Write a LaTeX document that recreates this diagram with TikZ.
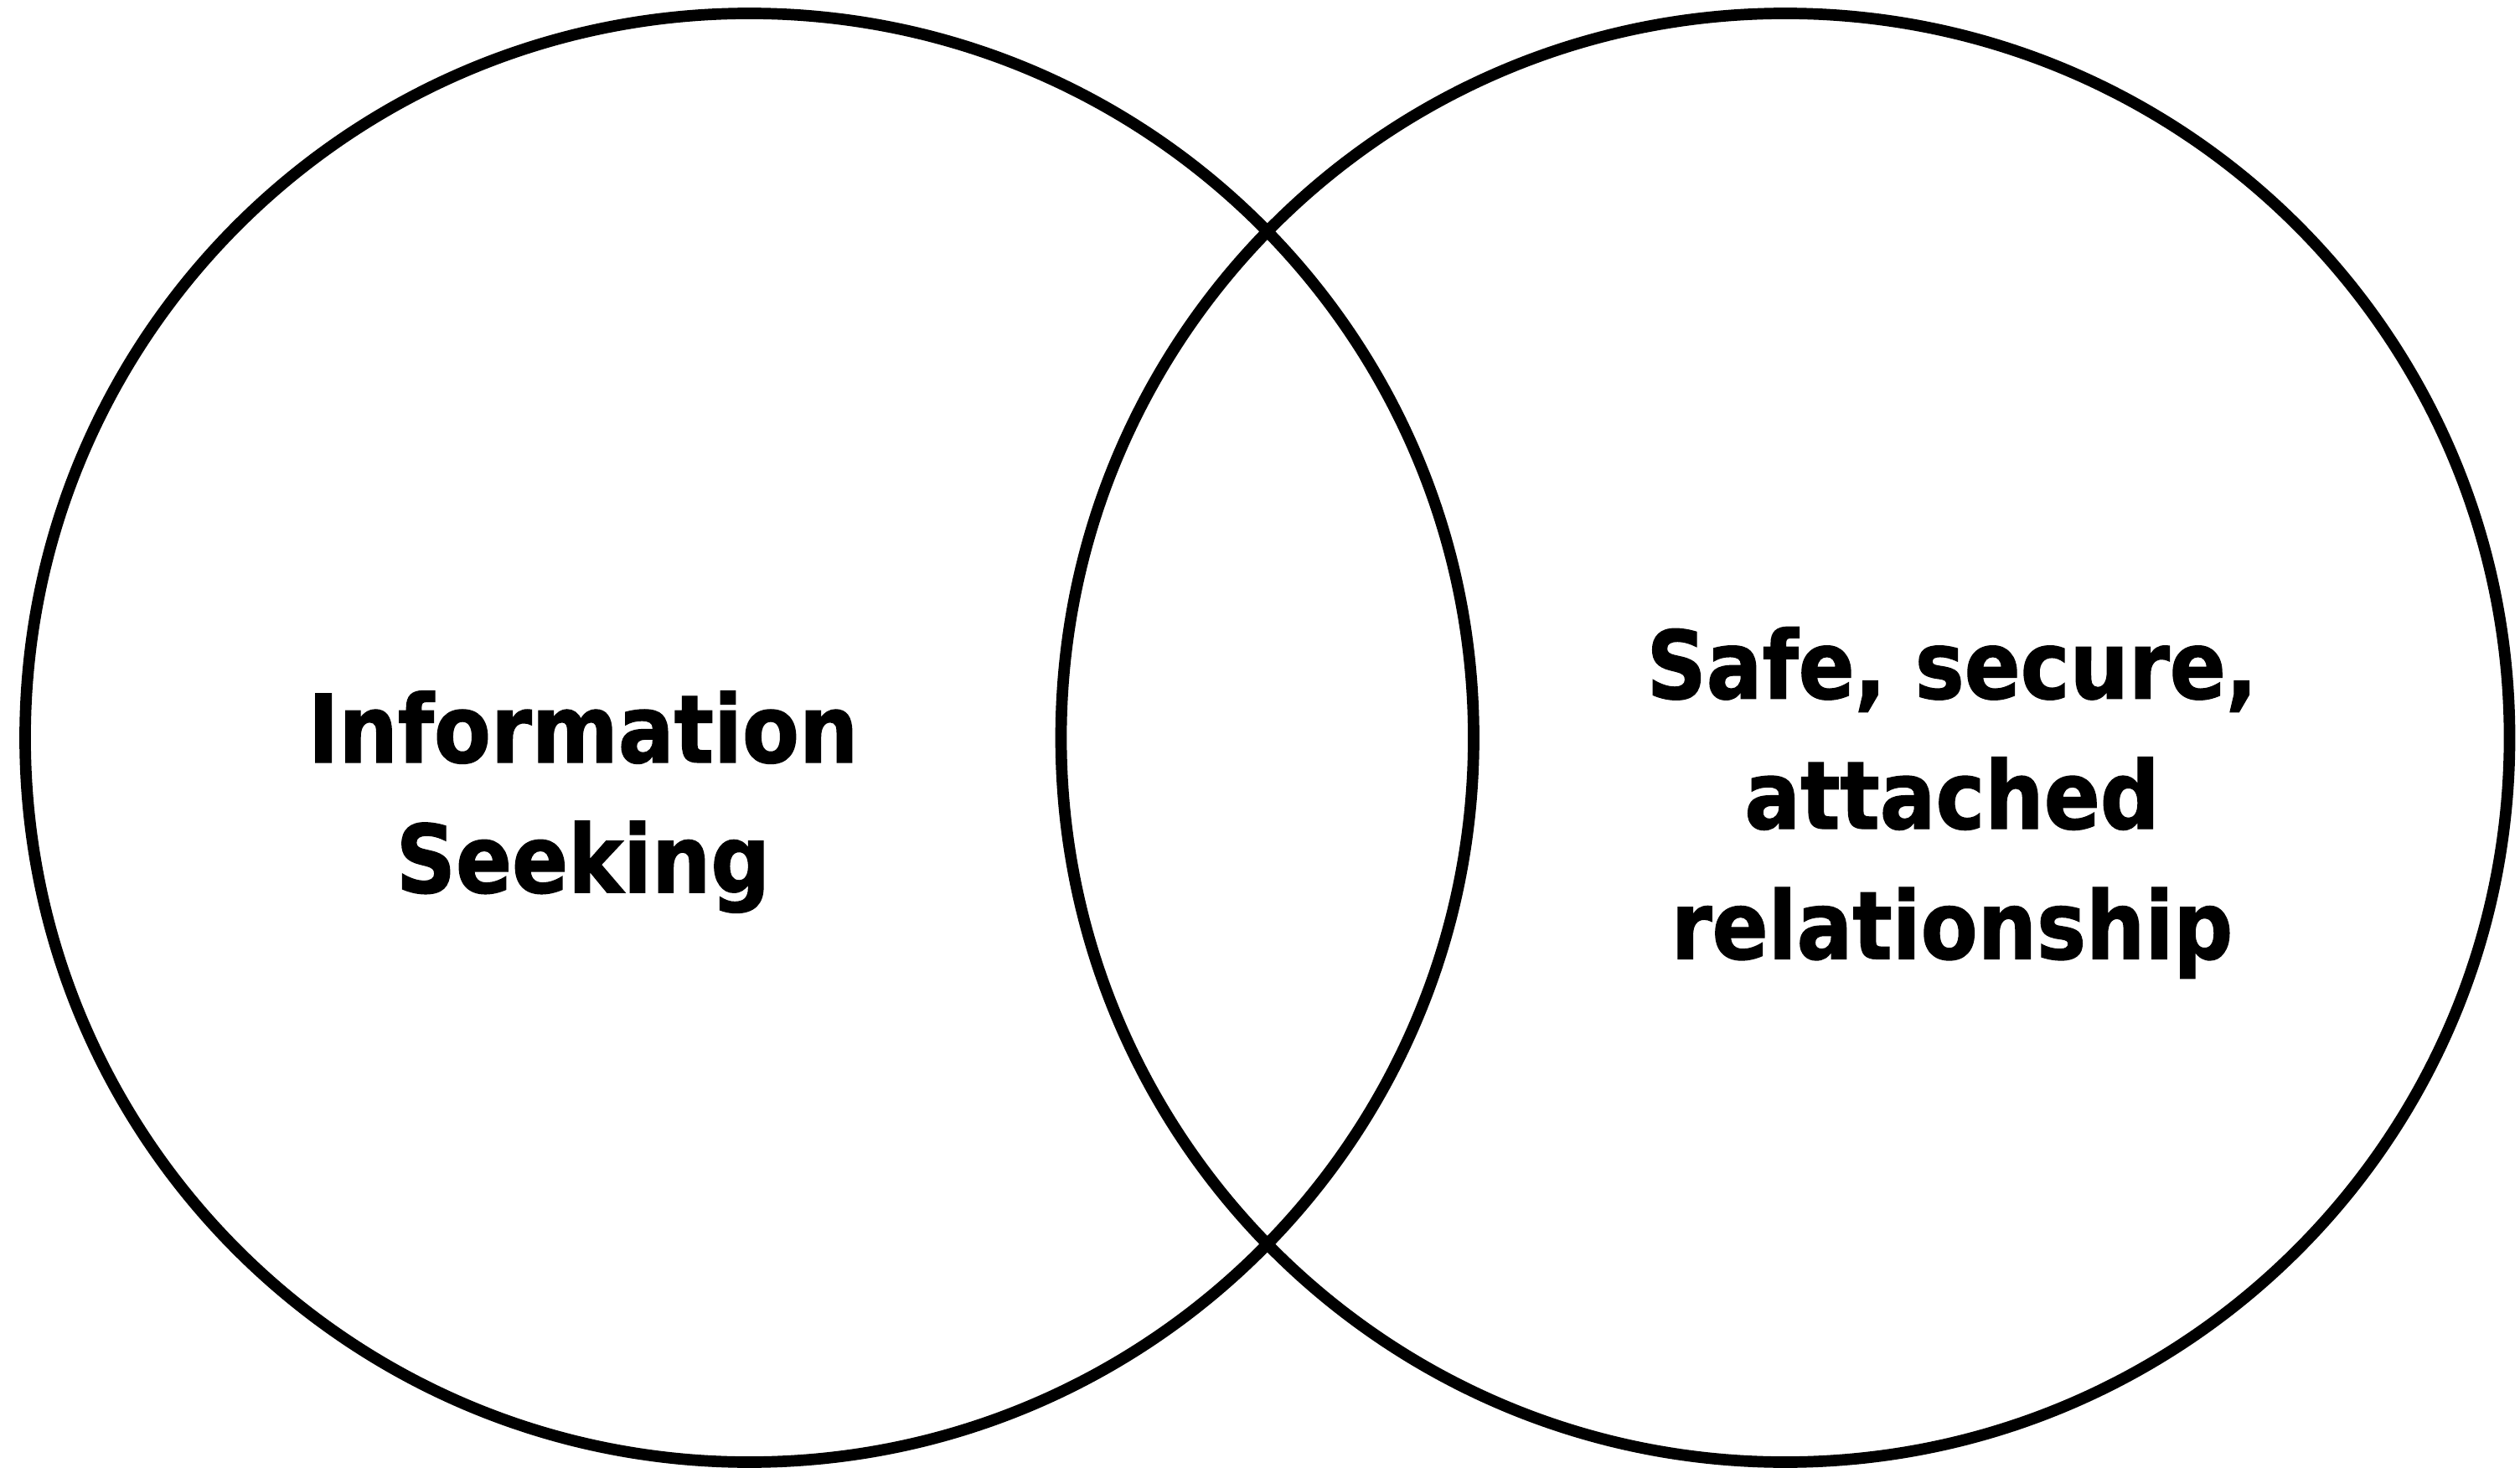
\documentclass[tikz,border=0pt]{standalone}
\usepackage{xcolor}
\definecolor{ink}{RGB}{0,0,0}
\usepackage{fontspec}
\newfontfamily\labelfont{DejaVu Sans}[FakeStretch=0.88, FakeBold=1.2]
\usepackage{tikz}
\usetikzlibrary{positioning}

\begin{document}
\begin{tikzpicture}
        \useasboundingbox[fill=white] (0, 0) rectangle (30.08, 17.51);
        \tikzset{
            ring/.style={draw=ink, line width=3.9pt},
            settext/.style={align=center, text=ink,
                font=\labelfont\bfseries\fontsize{32}{44.2}\selectfont}
        }
        % the two overlapping sets
        \draw[ring] (8.945, 8.705) circle (8.645);
        \draw[ring] (21.31, 8.705) circle (8.645);
        \node[settext] (seeking) at (6.96, 7.94) {Information\\Seeking};
        \node[settext] (attached) at (23.30, 7.93) {Safe, secure,\\attached\\relationship};
    \end{tikzpicture}
\end{document}
